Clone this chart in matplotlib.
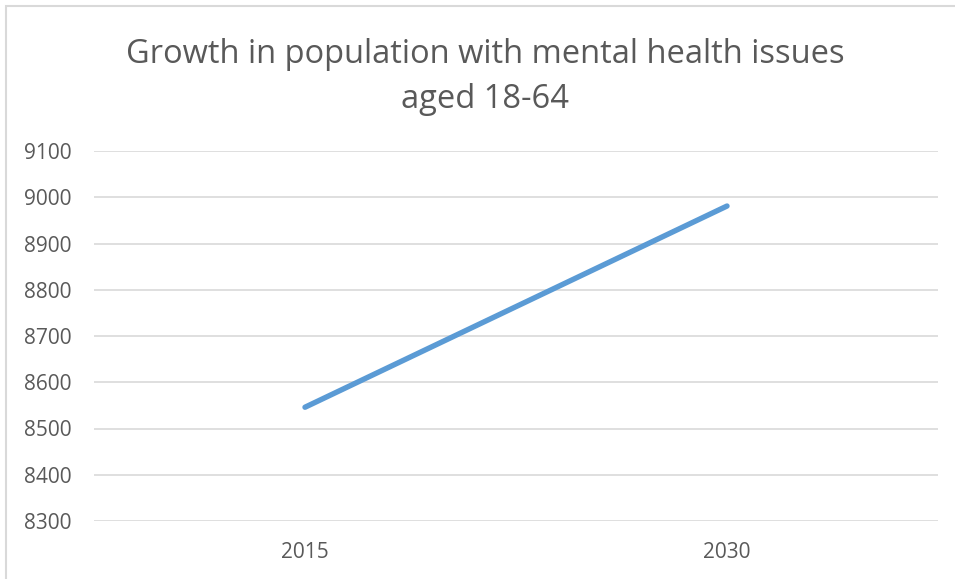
import matplotlib.pyplot as plt
from matplotlib.patches import Rectangle

years = ["2015", "2030"]
population = [8546, 8981]
yticks = [8300, 8400, 8500, 8600, 8700, 8800, 8900, 9000, 9100]

W, H = 955, 579
fig = plt.figure(figsize=(W / 100, H / 100), dpi=100)
plt.rcParams["font.family"] = ["Open Sans", "DejaVu Sans"]

# chart area border
fig.patches.append(Rectangle((5.5 / W, -0.1), 1.2, 1.1 - 6.5 / H,
                             transform=fig.transFigure, fill=False,
                             edgecolor="#D9D9D9", linewidth=1.5))

ax = fig.add_axes([94 / W, 1 - 521 / H, (938 - 94) / W, (521 - 151) / H])
x = range(len(years))
ax.plot(x, population, color="#5B9BD5", linewidth=3.9, solid_capstyle="round")

ax.set_xlim(-0.5, len(years) - 0.5)
ax.set_ylim(8300, 9100)
ax.set_yticks(yticks)
ax.set_xticks(list(x))
ax.set_xticklabels(years)
ax.grid(axis="y", color="#D9D9D9", linewidth=1.2)
ax.set_axisbelow(True)
for s in ax.spines.values():
    s.set_visible(False)
ax.tick_params(length=0, labelsize=15, colors="#595959")
ax.tick_params(axis="y", pad=16)
ax.tick_params(axis="x", pad=15)

# two-line title
title_x = 485 / W
fig.text(title_x, 1 - 63 / H, "Growth in population with mental health issues",
         ha="center", va="baseline", fontsize=23.5, color="#595959")
fig.text(title_x, 1 - 108 / H, "aged 18-64",
         ha="center", va="baseline", fontsize=23.5, color="#595959")

fig.savefig("out.png", dpi=100)
